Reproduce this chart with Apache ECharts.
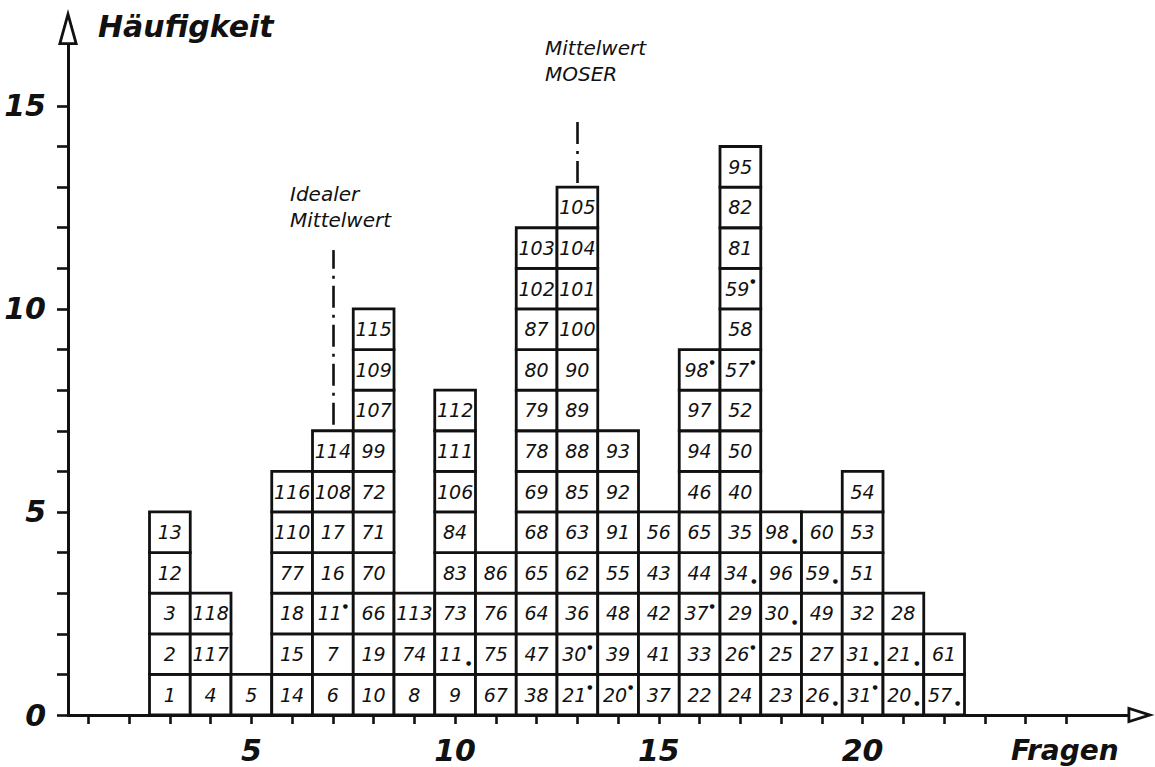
<!DOCTYPE html>
<html>
<head>
<meta charset="utf-8">
<script src="https://cdn.jsdelivr.net/npm/echarts@6/dist/echarts.min.js"></script>
<style>
  html, body { margin: 0; padding: 0; background: #fff; }
  #chart { width: 1155px; height: 767px; }
</style>
</head>
<body>
<div id="chart"></div>
<script>
// Fragen (x) und die Nummern in den Kästchen, jeweils von unten nach oben.
// "'" = Punkt oben, "." = Punkt unten
const questions = [3, 4, 5, 6, 7, 8, 9, 10, 11, 12, 13, 14, 15, 16, 17, 18, 19, 20, 21, 22];
const cellLabels = [
  ['1', '2', '3', '12', '13'],
  ['4', '117', '118'],
  ['5'],
  ['14', '15', '18', '77', '110', '116'],
  ['6', '7', "11'", '16', '17', '108', '114'],
  ['10', '19', '66', '70', '71', '72', '99', '107', '109', '115'],
  ['8', '74', '113'],
  ['9', '11.', '73', '83', '84', '106', '111', '112'],
  ['67', '75', '76', '86'],
  ['38', '47', '64', '65', '68', '69', '78', '79', '80', '87', '102', '103'],
  ["21'", "30'", '36', '62', '63', '85', '88', '89', '90', '100', '101', '104', '105'],
  ["20'", '39', '48', '55', '91', '92', '93'],
  ['37', '41', '42', '43', '56'],
  ['22', '33', "37'", '44', '65', '46', '94', '97', "98'"],
  ['24', "26'", '29', '34.', '35', '40', '50', '52', "57'", '58', "59'", '81', '82', '95'],
  ['23', '25', '30.', '96', '98.'],
  ['26.', '27', '49', '59.', '60'],
  ["31'", '31.', '32', '51', '53', '54'],
  ['20.', '21.', '28'],
  ['57.', '61']
];

// Achse: Fragen 1 .. 26 (Pfeil nach 26.5)
const xCategories = ['1', '2', '3', '4', '5', '6', '7', '8', '9', '10', '11', '12', '13',
  '14', '15', '16', '17', '18', '19', '20', '21', '22', '23', '24', '25', '26'];
const xLabels = ['5', '10', '15', '20'];
const lastXTick = '25';
const yTicks = [0, 1, 2, 3, 4, 5, 6, 7, 8, 9, 10, 11, 12, 13, 14, 15];
const yLabels = [0, 5, 10, 15];

const idealMean = '7';        // Idealer Mittelwert
const moserMean = '13';       // Mittelwert MOSER
const idealLineSpan = [7.15, 11.45];
const moserLineSpan = [13.1, 14.65];

const INK = '#111';
const FONT = '"DejaVu Sans", sans-serif';

// hohle Pfeilspitzen (Spitze oben, wird mit der Achse gedreht)
const arrowY = 'path://M10 0 L20 36 L0 36 Z M10 10.4 L3.7 33.2 L16.3 33.2 Z';
const arrowX = 'path://M8.5 0 L17 27 L0 27 Z M8.5 9.3 L3.8 24.2 L13.2 24.2 Z';

function fmtCell(s) {
  if (!s) return '';
  const last = s.charAt(s.length - 1);
  if (last === "'") return '{n|' + s.slice(0, -1) + '}{u|●}';
  if (last === '.') return '{n|' + s.slice(0, -1) + '}{d|●}';
  return '{n|' + s + '}';
}

// jedes Kästchen = ein Datenpunkt [Frage, Stufe]
const cellItems = [];
const cellTexts = [];
questions.forEach((q, i) => {
  cellLabels[i].forEach((t, k) => {
    cellItems.push([String(q), k]);
    cellTexts.push(t);
  });
});

const cellRich = {
  n: { fontFamily: FONT, fontStyle: 'italic', fontSize: 19, fill: INK, lineHeight: 22 },
  u: { fontFamily: FONT, fontSize: 6, fill: INK, verticalAlign: 'top', lineHeight: 8, padding: [0, 0, 0, 1] },
  d: { fontFamily: FONT, fontSize: 6, fill: INK, verticalAlign: 'bottom', lineHeight: 4, padding: [0, 0, 0, 3] }
};

const series = [{
  type: 'custom',
  data: cellItems,
  encode: { x: 0, y: 1 },
  silent: true,
  animation: false,
  renderItem: (params, api) => {
    const x = api.value(0);
    const lvl = api.value(1);
    const bottom = api.coord([x, lvl]);
    const top = api.coord([x, lvl + 1]);
    const w = api.size([1, 0])[0];
    return {
      type: 'rect',
      shape: { x: bottom[0] - w / 2, y: top[1], width: w, height: bottom[1] - top[1] },
      style: { fill: '#fff', stroke: INK, lineWidth: 2.8 },
      textContent: {
        style: { text: fmtCell(cellTexts[params.dataIndex]), rich: cellRich, fill: INK }
      },
      textConfig: { position: 'inside' }
    };
  }
}, {
  // strichpunktierte Linien für die Mittelwerte
  type: 'line',
  data: [],
  silent: true,
  markLine: {
    symbol: 'none',
    silent: true,
    animation: false,
    label: { show: false },
    lineStyle: { color: INK, width: 2.6, type: [22, 7, 3, 7] },
    data: [
      [{ coord: [idealMean, idealLineSpan[0]] }, { coord: [idealMean, idealLineSpan[1]] }],
      [{ coord: [moserMean, moserLineSpan[0]] }, { coord: [moserMean, moserLineSpan[1]] }]
    ]
  }
}];

const chart = echarts.init(document.getElementById('chart'), null, { renderer: 'svg' });
chart.setOption({
  backgroundColor: '#fff',
  animation: false,
  title: [
    { text: 'Häufigkeit', left: 93, top: 6,
      textStyle: { fontFamily: FONT, fontStyle: 'italic', fontWeight: 'bold', fontSize: 30, color: INK } },
    { text: 'Fragen', left: 1006, top: 731,
      textStyle: { fontFamily: FONT, fontStyle: 'italic', fontWeight: 'bold', fontSize: 28, color: INK } },
    { text: 'Idealer\nMittelwert', left: 285, top: 176,
      textStyle: { fontFamily: FONT, fontStyle: 'italic', fontWeight: 'normal', fontSize: 20, lineHeight: 26, color: INK } },
    { text: 'Mittelwert\nMOSER', left: 540, top: 30,
      textStyle: { fontFamily: FONT, fontStyle: 'italic', fontWeight: 'normal', fontSize: 20, lineHeight: 26, color: INK } }
  ],
  grid: { left: 68, right: 27.5, top: 45, bottom: 52, containLabel: false },
  xAxis: {
    type: 'category',
    data: xCategories,
    boundaryGap: true,
    splitLine: { show: false },
    axisLine: {
      show: true,
      lineStyle: { color: INK, width: 3 },
      symbol: ['none', arrowX],
      symbolSize: [17, 27],
      symbolOffset: [0, 13.5]
    },
    axisTick: {
      show: true,
      alignWithLabel: true,
      interval: (idx, val) => +val <= +lastXTick,
      length: 9,
      lineStyle: { color: INK, width: 2.6 }
    },
    axisLabel: {
      interval: (idx, val) => xLabels.indexOf(val) >= 0,
      margin: 20,
      fontFamily: FONT, fontStyle: 'italic', fontWeight: 'bold', fontSize: 30, color: INK
    }
  },
  yAxis: {
    type: 'value',
    min: 0,
    max: 16.5,
    splitLine: { show: false },
    axisLine: {
      show: true,
      lineStyle: { color: INK, width: 3 },
      symbol: ['none', arrowY],
      symbolSize: [20, 36],
      symbolOffset: [0, 18]
    },
    axisTick: { show: true, customValues: yTicks, length: 11, lineStyle: { color: INK, width: 2.6 } },
    axisLabel: {
      customValues: yLabels,
      margin: 22,
      fontFamily: FONT, fontStyle: 'italic', fontWeight: 'bold', fontSize: 30, color: INK
    }
  },
  series: series
});
</script>
</body>
</html>
